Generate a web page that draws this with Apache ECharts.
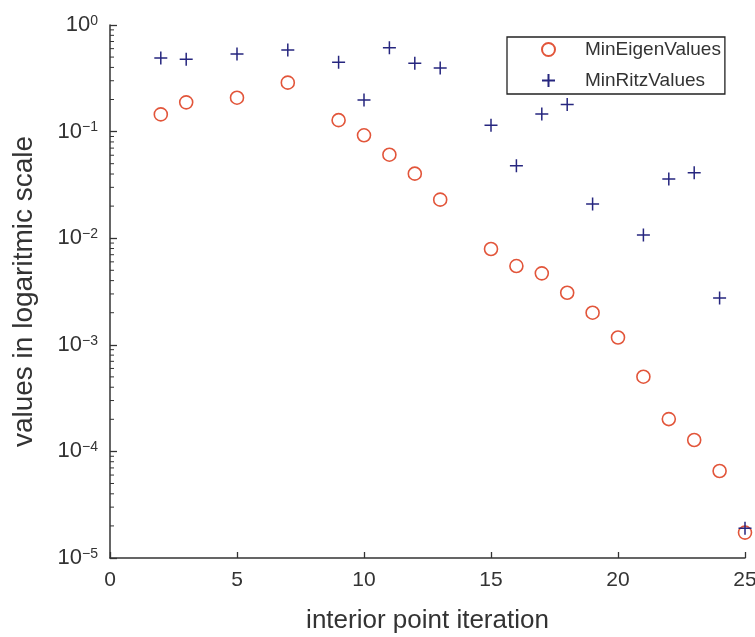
<!DOCTYPE html>
<html>
<head>
<meta charset="utf-8">
<script src="https://cdn.jsdelivr.net/npm/echarts@6/dist/echarts.min.js"></script>
<style>
html,body{margin:0;padding:0;background:#fff;}
#chart{width:755px;height:637px;}
</style>
</head>
<body>
<div id="chart"></div>
<script>
// ---- data ----
var eigenIter = [2, 3, 5, 7, 9, 10, 11, 12, 13, 15, 16, 17, 18, 19, 20, 21, 22, 23, 24, 25];
var minEigenValues = [0.145, 0.188, 0.208, 0.288, 0.128, 0.0923, 0.0607, 0.0403, 0.023, 0.00792, 0.00548, 0.00468, 0.00308, 0.002, 0.00117, 0.000502, 0.000201, 0.000128, 0.0000655, 0.0000173];
var ritzIter = [2, 3, 5, 7, 9, 10, 11, 12, 13, 15, 16, 17, 18, 19, 21, 22, 23, 24, 25];
var minRitzValues = [0.49, 0.477, 0.535, 0.582, 0.447, 0.198, 0.612, 0.437, 0.395, 0.115, 0.0479, 0.146, 0.18, 0.0209, 0.0107, 0.0359, 0.0412, 0.00275, 0.000019];
var xTicks = [0, 5, 10, 15, 20, 25];
var yDecadeExponents = [-5, -4, -3, -2, -1, 0];
var seriesNames = ['MinEigenValues', 'MinRitzValues'];

var FONT = '"Liberation Sans", Arial, Helvetica, sans-serif';
var TXT = '#333333';
var AX = '#333333';
var RED = '#e2553a';
var BLUE = '#26267f';

function zip(xs, ys) { return xs.map(function (x, i) { return [x, ys[i]]; }); }

// log minor tick values (2..9 x 10^k)
var minorVals = [];
for (var k = 0; k < yDecadeExponents.length - 1; k++) {
  for (var m = 2; m <= 9; m++) minorVals.push([0, m * Math.pow(10, yDecadeExponents[k])]);
}

var plusPath = 'path://M5,0L5,10M0,5L10,5';

var chart = echarts.init(document.getElementById('chart'), null, {renderer: 'canvas'});
chart.setOption({
  backgroundColor: '#ffffff',
  animation: false,
  grid: {left: 110, right: 10, top: 25, bottom: 79, containLabel: false, outerBoundsMode: 'none'},
  legend: {
    data: [{name: seriesNames[0]}, {name: seriesNames[1]}],
    orient: 'vertical',
    left: 507,
    top: 37,
    padding: [3, 4, 4, 34],
    itemGap: 12,
    itemWidth: 13,
    itemHeight: 13,
    borderColor: '#222',
    borderWidth: 1.3,
    formatter: function (name) { return '{t|' + name + '}'; },
    textStyle: {
      fontFamily: FONT, fontSize: 19, color: TXT,
      rich: {t: {fontFamily: FONT, fontSize: 19, color: TXT, padding: [0, 0, 0, 25]}}
    },
    selectedMode: false
  },
  xAxis: {
    type: 'value',
    min: 0, max: 25, interval: 5,
    name: 'interior point iteration',
    nameLocation: 'middle',
    nameGap: 50,
    nameTextStyle: {fontFamily: FONT, fontSize: 26, color: TXT},
    axisLine: {show: true, onZero: false, lineStyle: {color: AX, width: 1.5}},
    axisTick: {show: true, inside: true, length: 6, lineStyle: {color: AX, width: 1.3}},
    axisLabel: {fontFamily: FONT, fontSize: 21, color: TXT, margin: 12,
      formatter: function (v) { return xTicks.indexOf(v) >= 0 ? String(v) : ''; }},
    splitLine: {show: false}
  },
  yAxis: {
    type: 'log',
    logBase: 10,
    min: 1e-5, max: 1,
    splitNumber: 5,
    name: 'values in logaritmic scale',
    nameLocation: 'middle',
    nameGap: 72,
    nameRotate: 90,
    nameTextStyle: {fontFamily: FONT, fontSize: 28, color: TXT},
    axisLine: {show: true, lineStyle: {color: AX, width: 1.5}},
    axisTick: {show: true, inside: true, length: 7, lineStyle: {color: AX, width: 1.3}},
    axisLabel: {
      margin: 12,
      formatter: function (v) {
        var e = Math.round(Math.log(v) / Math.LN10);
        var s = e < 0 ? '\u2212' + Math.abs(e) : String(e);
        return '{b|10}{s|' + s + '}';
      },
      rich: {
        b: {fontFamily: FONT, fontSize: 22, color: TXT, lineHeight: 22, verticalAlign: 'bottom'},
        s: {fontFamily: FONT, fontSize: 14, color: TXT, lineHeight: 11, verticalAlign: 'top'}
      }
    },
    splitLine: {show: false}
  },
  series: [
    {
      name: seriesNames[0],
      type: 'scatter',
      data: zip(eigenIter, minEigenValues),
      symbol: 'circle',
      symbolSize: 13,
      itemStyle: {color: 'rgba(0,0,0,0)', borderColor: RED, borderWidth: 1.6, opacity: 1},
      z: 3
    },
    {
      name: seriesNames[1],
      type: 'scatter',
      data: zip(ritzIter, minRitzValues),
      symbol: plusPath,
      symbolSize: 13,
      itemStyle: {color: 'rgba(0,0,0,0)', borderColor: BLUE, borderWidth: 1.5, opacity: 1},
      z: 4
    },
    {
      name: 'minorTicks',
      type: 'custom',
      silent: true,
      clip: false,
      data: minorVals,
      encode: {x: 0, y: 1},
      renderItem: function (params, api) {
        var p = api.coord([0, api.value(1)]);
        return {
          type: 'line',
          shape: {x1: p[0], y1: p[1], x2: p[0] + 4, y2: p[1]},
          style: {stroke: AX, lineWidth: 1}
        };
      },
      z: 1
    }
  ]
});
</script>
</body>
</html>
